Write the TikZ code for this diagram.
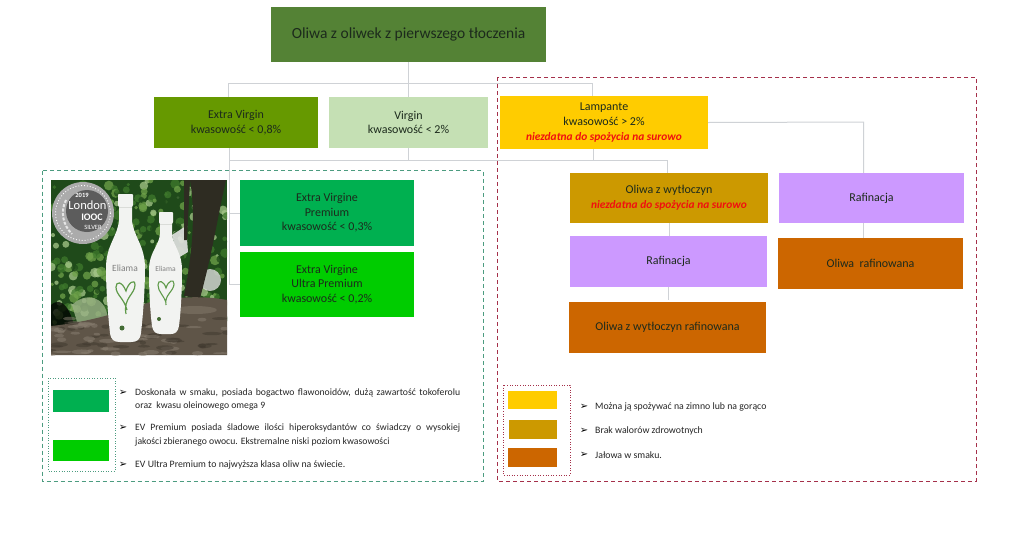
\documentclass[tikz,border=0pt]{standalone}
\usepackage{fontspec}
\setmainfont{Carlito}
\newfontfamily\bulletfont{DejaVu Sans}
\definecolor{cTop}{HTML}{548235}
\definecolor{cEV}{HTML}{669900}
\definecolor{cV}{HTML}{C5E0B4}
\definecolor{cLamp}{HTML}{FFCC00}
\definecolor{cWyt}{HTML}{CC9900}
\definecolor{cRaf}{HTML}{CC99FF}
\definecolor{cOr}{HTML}{CC6600}
\definecolor{cPrem}{HTML}{00B050}
\definecolor{cUlt}{HTML}{00CC00}
\definecolor{cConn}{HTML}{CFD2D6}
\definecolor{cGD}{HTML}{4C9C80}
\definecolor{cRD}{HTML}{A5304A}
\definecolor{cTxt}{HTML}{1C2A1C}
\definecolor{warnred}{HTML}{F01010}
\definecolor{leaf0}{HTML}{1F4A1A}
\definecolor{leaf1}{HTML}{3F7A2C}
\definecolor{leaf2}{HTML}{6FA24A}
\definecolor{leaf3}{HTML}{A6C88A}
\definecolor{trunk}{HTML}{2E2C22}
\definecolor{rock}{HTML}{5F5548}
\definecolor{rockL}{HTML}{8A8072}
\definecolor{rockD}{HTML}{3F382E}
\definecolor{medalO}{HTML}{ABABAB}
\definecolor{medalI}{HTML}{5C5C5C}
\definecolor{bottleW}{HTML}{F2F3F1}
\definecolor{bottleS}{HTML}{DADCD8}
\definecolor{heartG}{HTML}{5F9A4A}
\newcommand{\boxnode}[7]{%
  \pgfmathsetmacro{\bw}{#4-#2}\pgfmathsetmacro{\bh}{#5-#3}%
  \pgfmathsetmacro{\bcx}{(#4+#2)/2}\pgfmathsetmacro{\bcy}{(#5+#3)/2}%
  \node[flowbox,#6,minimum width=\bw pt,minimum height=\bh pt] (#1) at (\bcx,\bcy) {#7};}
\newcommand{\warn}[1]{{\fontsize{11.4}{14.6}\selectfont\textcolor{warnred}{\textbf{\textit{#1}}}}}
\tikzset{
  flowbox/.style={draw=none,inner sep=0pt,align=center,text=cTxt,font=\fontsize{12}{14.6}\selectfont},
  conn/.style={draw=cConn,line width=1pt},
  dashG/.style={draw=cGD,line width=1pt,dash pattern=on 4pt off 3pt},
  dashR/.style={draw=cRD,line width=1pt,dash pattern=on 4pt off 3pt},
  dotG/.style={draw=cGD,line width=.6pt,dotted},
  dotR/.style={draw=cRD,line width=.6pt,dotted},
  note/.style={anchor=west,inner sep=0pt,text=black!85,font=\fontsize{9.8}{14}\selectfont},
  bul/.style={anchor=center,inner sep=0pt,text=black,font=\bulletfont\fontsize{10}{10}\selectfont},
}
\begin{document}
\begin{tikzpicture}[x=1pt,y=-1pt]
\useasboundingbox (0,0) rectangle (1024,536);
\fill[white] (0,0) rectangle (1024,536);
\coordinate (jl) at (228,83.5);
\coordinate (jr) at (592,83.5);
\coordinate (dl) at (229,160);
\coordinate (dm) at (593,160);
\coordinate (dr) at (667,160);
\coordinate (rb) at (863.5,122);
% photo
\begin{scope}
\clip (51,180) rectangle (227,355);
\fill[leaf0] (51,180) rectangle (227,355);
\pgfmathsetseed{7}
\foreach \i in {1,...,420}{
  \pgfmathsetmacro{\px}{51+rnd*176}\pgfmathsetmacro{\py}{180+rnd*145}
  \pgfmathsetmacro{\pr}{1.5+rnd*3.5}
  \pgfmathtruncatemacro{\pc}{min(3,int(rnd*3.6))}
  \fill[leaf\pc,opacity=.75] (\px,\py) circle (\pr);
}
\fill[black,opacity=.75] (51,305) .. controls (62,295) and (72,310) .. (76,335) -- (51,340) -- cycle;
\fill[leaf3!70!gray,opacity=.8] (72,305) .. controls (85,292) and (105,295) .. (108,318) -- (78,325) -- cycle;
\fill[white!78!gray,opacity=.9] (172,235) -- (186,226) -- (188,252) -- (178,258) -- cycle;
\fill[white!72!gray,opacity=.8] (210,280) circle (11);
\fill[trunk] (190,180) -- (226,180) .. controls (218,215) and (212,255) .. (200,298) -- (184,296) .. controls (192,255) and (196,215) .. (190,180) -- cycle;
\fill[trunk] (184,180) -- (190,180) -- (187,240) -- (184,240) -- cycle;
\fill[rock] (51,337) -- (51,326) .. controls (90,322) and (120,312) .. (150,302) .. controls (180,296) and (205,296) .. (227,300) -- (227,355) -- (51,355) -- cycle;
\pgfmathsetseed{11}
\foreach \i in {1,...,90}{
  \pgfmathsetmacro{\px}{51+rnd*176}\pgfmathsetmacro{\py}{318+rnd*37}
  \pgfmathsetmacro{\pa}{3+rnd*7}\pgfmathsetmacro{\pb}{1+rnd*1.5}
  \pgfmathtruncatemacro{\pc}{int(rnd*2)}
  \ifnum\pc=0 \fill[rockL,opacity=.5] (\px,\py) ellipse (\pa pt and \pb pt);
  \else \fill[rockD,opacity=.5] (\px,\py) ellipse (\pa pt and \pb pt);\fi
}
\fill[rockL,opacity=.45] (195,310) ellipse (22pt and 4pt);
\end{scope}
% large bottle
\fill[bottleW] (118,195) .. controls (118,194) and (119,194) .. (120,194) -- (131,194) .. controls (132,194) and (133,194) .. (133,195) -- (133,205) -- (132,207) -- (132,220) .. controls (133,236) and (145,245) .. (145,268) .. controls (145,290) and (143,315) .. (141,333) .. controls (140,340) and (137,342) .. (131,342) -- (120,342) .. controls (114,342) and (111,340) .. (110,333) .. controls (108,315) and (106,290) .. (106,268) .. controls (106,245) and (118,236) .. (119,220) -- (119,207) -- (118,205) -- cycle;
\draw[bottleS,line width=.5pt] (119,207) -- (132,207);
% small bottle
\fill[bottleW] (159,213) .. controls (159,212) and (160,212) .. (161,212) -- (171,212) .. controls (172,212) and (173,212) .. (173,213) -- (173,222) -- (172,224) -- (172,234) .. controls (173,246) and (182,252) .. (182,270) .. controls (182,290) and (181,310) .. (179,326) .. controls (178,332) and (175,334) .. (171,334) -- (161,334) .. controls (156,334) and (153,332) .. (152,326) .. controls (150,310) and (149,290) .. (149,270) .. controls (149,252) and (159,246) .. (160,234) -- (160,224) -- (159,222) -- cycle;
\draw[bottleS,line width=.5pt] (160,224) -- (172,224);
\node[inner sep=0pt,text=gray,font=\fontsize{9.5}{9.5}\selectfont] (lab1) at (125,268) {Eliama};
\node[inner sep=0pt,text=gray,font=\fontsize{7.5}{7.5}\selectfont] (lab2) at (165.5,269) {Eliama};
\draw[heartG,line width=1.2pt] (127,310) .. controls (124,298) and (116,295) .. (116,287) .. controls (116,281) and (122,281) .. (126,291) .. controls (128,283) and (135,278) .. (135,285) .. controls (135,294) and (123,298) .. (126,314);
\draw[heartG,line width=1.1pt] (166,303) .. controls (164,295) and (158,292) .. (158,285) .. controls (158,279) and (164,281) .. (166,288) .. controls (168,281) and (174,278) .. (174,284) .. controls (174,291) and (164,295) .. (166,305);
\fill[heartG!70!black] (122,328) circle (2.5);
\fill[heartG!70!black] (159,319) circle (2);
% medal
\fill[medalO] (83,213) circle (31);
\fill[medalI] (87,211) circle (21);
\draw[white,line width=.9pt,dotted] (83,213) circle (27.5);
\draw[white!80!gray,line width=2pt,dash pattern=on 3pt off 1.5pt] (66,200) .. controls (60,212) and (63,225) .. (72,234);
\node[inner sep=0pt,text=white,font=\fontsize{6.5}{6.5}\selectfont\bfseries] (m1) at (82,195.5) {2019};
\node[inner sep=0pt,text=white,font=\fontsize{12.5}{12.5}\selectfont] (m2) at (87.5,205.5) {London};
\node[inner sep=0pt,text=white,font=\fontsize{10}{10}\selectfont\bfseries] (m3) at (92,217.5) {IOOC};
\node[inner sep=0pt,text=white,font=\fontsize{6.5}{6.5}\selectfont] (m4) at (93,227.5) {SILVER};
% boxes
\boxnode{top}{271}{7}{546}{62}{fill=cTop,font=\fontsize{15.5}{18}\selectfont}{Oliwa z oliwek z pierwszego tłoczenia}
\boxnode{ev}{154}{97}{318}{148}{fill=cEV}{Extra Virgin\\kwasowość < 0,8\%}
\boxnode{virgin}{329}{97}{488}{148}{fill=cV}{Virgin\\kwasowość < 2\%}
\boxnode{lamp}{500}{96}{708}{149}{fill=cLamp}{Lampante\\kwasowość > 2\%\\\warn{niezdatna do spożycia na surowo}}
\boxnode{prem}{240}{180}{414}{246}{fill=cPrem}{Extra Virgine\\Premium\\kwasowość < 0,3\%}
\boxnode{ultra}{240}{252}{414}{317}{fill=cUlt}{Extra Virgine\\Ultra Premium\\kwasowość < 0,2\%}
\boxnode{wyt}{570}{173}{768}{223}{fill=cWyt}{Oliwa z wytłoczyn\\\warn{niezdatna do spożycia na surowo}}
\boxnode{raf}{779}{173}{964}{223}{fill=cRaf}{Rafinacja}
\boxnode{rafw}{570}{236}{767}{287}{fill=cRaf}{Rafinacja}
\boxnode{orw}{569}{302}{766}{353}{fill=cOr}{Oliwa z wytłoczyn rafinowana}
\boxnode{orr}{778}{238}{963}{289}{fill=cOr}{Oliwa\ \ rafinowana}
% connectors
\draw[conn] (top.south) -- (top.south |- virgin.north);
\draw[conn] (jl |- ev.north) -- (jl) -- (jr) -- (jr |- lamp.north);
\draw[conn] (dl |- ev.south) -- (dl |- ultra.west) -- (ultra.west);
\draw[conn] (dl |- prem.west) -- (prem.west);
\draw[conn] (dl) -- (dr) -- (dr |- wyt.north);
\draw[conn] (top.south |- virgin.south) -- (top.south |- dl);
\draw[conn] (dm |- lamp.south) -- (dm);
\draw[conn] (lamp.east) -- (rb) -- (rb |- raf.north);
\draw[conn] (rb |- raf.south) -- (rb |- orr.north);
\draw[conn] (wyt.south) -- (wyt.south |- rafw.north);
\draw[conn] (rafw.south) -- (rafw.south |- 0,300);
% dashed regions
\draw[dashG] (42,170.5) rectangle (483,481);
\draw[dashR] (497,77) rectangle (976,481);
% green legend
\draw[dotG] (48,378) rectangle (115,471);
\boxnode{sw1}{53}{390}{109}{412}{fill=cPrem}{}
\boxnode{sw2}{53}{440}{109}{461}{fill=cUlt}{}
\node[bul] (b1) at (123,393) {➢};
\node[bul] (b2) at (123,428) {➢};
\node[bul] (b3) at (123,465) {➢};
\node[note,text width=325pt,align=justify,font=\fontsize{9.7}{12.6}\selectfont] (n1) at (135,399.5) {Doskonała w smaku, posiada bogactwo flawonoidów, dużą zawartość tokoferolu\linebreak oraz\ \ kwasu oleinowego omega 9};
\node[note,text width=325pt,align=justify,font=\fontsize{9.7}{14}\selectfont] (n2) at (135,435) {EV Premium posiada śladowe ilości hiperoksydantów co świadczy o wysokiej\linebreak jakości zbieranego owocu. Ekstremalne niski poziom kwasowości};
\node[note] (n3) at (135,465) {EV Ultra Premium to najwyższa klasa oliw na świecie.};
% red legend
\draw[dotR] (503,385) rectangle (570,475);
\boxnode{sw3}{508}{391}{557}{409}{fill=cLamp}{}
\boxnode{sw4}{509}{420}{557}{439}{fill=cWyt}{}
\boxnode{sw5}{508}{448}{557}{467}{fill=cOr}{}
\node[bul] (b4) at (584,407) {➢};
\node[bul] (b5) at (584,431) {➢};
\node[bul] (b6) at (584,455) {➢};
\node[note] (n4) at (595,407) {Można ją spożywać na zimno lub na gorąco};
\node[note] (n5) at (595,431) {Brak walorów zdrowotnych};
\node[note] (n6) at (595,455) {Jałowa w smaku.};
\end{tikzpicture}
\end{document}
